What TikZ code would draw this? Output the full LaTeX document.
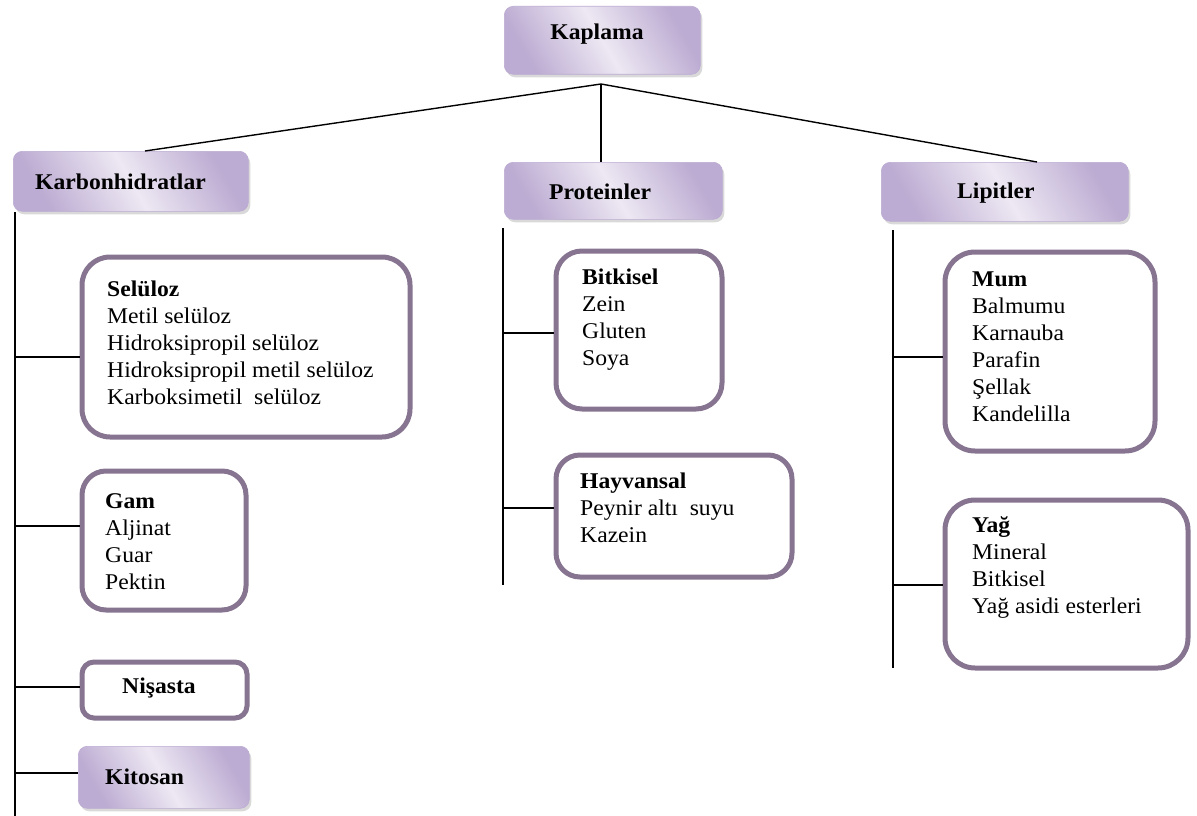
\documentclass[tikz,border=0pt]{standalone}
\usepackage{fontspec}
\setmainfont{Liberation Serif}[FakeStretch=1.05]
\usetikzlibrary{shadows}
\definecolor{lavdark}{RGB}{188,171,210}
\definecolor{lavlight}{RGB}{237,232,243}
\definecolor{edge}{RGB}{134,116,144}
\tikzset{
  gbox/.style={anchor=north west, inner sep=0pt, rounded corners=9pt,
    left color=lavdark, right color=lavdark, middle color=lavlight, shading angle=120,
    draw=lavdark, line width=0.6pt,
    drop shadow={shadow xshift=2pt, shadow yshift=-3pt, opacity=0.3, fill=gray}},
  wbox/.style={anchor=north west, inner sep=0pt, draw=edge, line width=5pt, fill=white},
  txt/.style={inner sep=0pt, align=left, font=\fontsize{22.5}{27}\selectfont},
  btxt/.style={inner sep=0pt, font=\fontsize{22.5}{27}\selectfont\bfseries},
  conn/.style={line width=1.4pt, black}
}
\begin{document}
\begin{tikzpicture}[x=1pt,y=-1pt]
\useasboundingbox (0,0) rectangle (1197,816);
% top level boxes
\node[gbox, minimum width=196pt, minimum height=68pt] (kap) at (504,6) {};
\node[gbox, minimum width=235pt, minimum height=60pt] (karb) at (13,151) {};
\node[gbox, minimum width=218pt, minimum height=57pt] (prot) at (504,162) {};
\node[gbox, minimum width=247pt, minimum height=59pt] (lip) at (881,162) {};
\node[btxt] (kapt) at (597,34) {Kaplama};
\node[btxt, anchor=west] (karbt) at (35,182) {Karbonhidratlar};
\node[btxt, anchor=west] (prott) at (549,192) {Proteinler};
\node[btxt, anchor=west] (lipt) at (957,193) {Lipitler};
% sub boxes
\node[wbox, rounded corners=28pt, minimum width=328pt, minimum height=180pt] (sel) at (79.5,254.5) {};
\node[wbox, rounded corners=24pt, minimum width=164pt, minimum height=139pt] (gam) at (79.5,468.5) {};
\node[wbox, rounded corners=12pt, minimum width=165pt, minimum height=56pt] (nis) at (79.5,659.5) {};
\node[gbox, minimum width=171pt, minimum height=62pt] (kit) at (78,746) {};
\node[wbox, rounded corners=26pt, minimum width=166pt, minimum height=158pt] (bit) at (553.5,248.5) {};
\node[wbox, rounded corners=24pt, minimum width=236pt, minimum height=122pt] (hay) at (553.5,452.5) {};
\node[wbox, rounded corners=30pt, minimum width=210pt, minimum height=199pt] (mum) at (942.5,249.5) {};
\node[wbox, rounded corners=30pt, minimum width=243pt, minimum height=168pt] (yag) at (942.5,497.5) {};
% texts
\node[txt, anchor=north west] (selt) at (107,281) {\textbf{Selüloz}\\Metil selüloz\\Hidroksipropil selüloz\\Hidroksipropil metil selüloz\\Karboksimetil\ \ selüloz};
\node[txt, anchor=north west] (gamt) at (105,493) {\textbf{Gam}\\Aljinat\\Guar\\Pektin};
\node[btxt] (nist) at (159,688) {Nişasta};
\node[btxt, anchor=west] (kitt) at (105,777) {Kitosan};
\node[txt, anchor=north west] (bitt) at (582,269) {\textbf{Bitkisel}\\Zein\\Gluten\\Soya};
\node[txt, anchor=north west] (hayt) at (580,473) {\textbf{Hayvansal}\\Peynir altı\ \ suyu\\Kazein};
\node[txt, anchor=north west] (mumt) at (972,272) {\textbf{Mum}\\Balmumu\\Karnauba\\Parafin\\Şellak\\Kandelilla};
\node[txt, anchor=north west] (yagt) at (972,516) {\textbf{Yağ}\\Mineral\\Bitkisel\\Yağ asidi esterleri};
% connectors top
\coordinate (j) at (601,84);
\coordinate (karbtop) at (145,151);
\coordinate (liptop) at (1037,162);
\draw[conn] (j) -- (karbtop);
\draw[conn] (j) -- (j |- prot.north);
\draw[conn] (j) -- (liptop);
% left trunk
\coordinate (lt1) at (15,212);
\coordinate (lt2) at (15,816);
\draw[conn] (lt1) -- (lt2);
\coordinate (b1) at (15,357); \draw[conn] (b1) -- (b1 -| sel.west);
\coordinate (b2) at (15,526); \draw[conn] (b2) -- (b2 -| gam.west);
\coordinate (b3) at (15,687); \draw[conn] (b3) -- (b3 -| nis.west);
\coordinate (b4) at (15,773); \draw[conn] (b4) -- (b4 -| kit.west);
% middle trunk
\coordinate (mt1) at (503,228);
\coordinate (mt2) at (503,585);
\draw[conn] (mt1) -- (mt2);
\coordinate (m1) at (503,333); \draw[conn] (m1) -- (m1 -| bit.west);
\coordinate (m2) at (503,508); \draw[conn] (m2) -- (m2 -| hay.west);
% right trunk
\coordinate (rt1) at (893,230);
\coordinate (rt2) at (893,668);
\draw[conn] (rt1) -- (rt2);
\coordinate (r1) at (893,357); \draw[conn] (r1) -- (r1 -| mum.west);
\coordinate (r2) at (893,585); \draw[conn] (r2) -- (r2 -| yag.west);
\end{tikzpicture}
\end{document}
